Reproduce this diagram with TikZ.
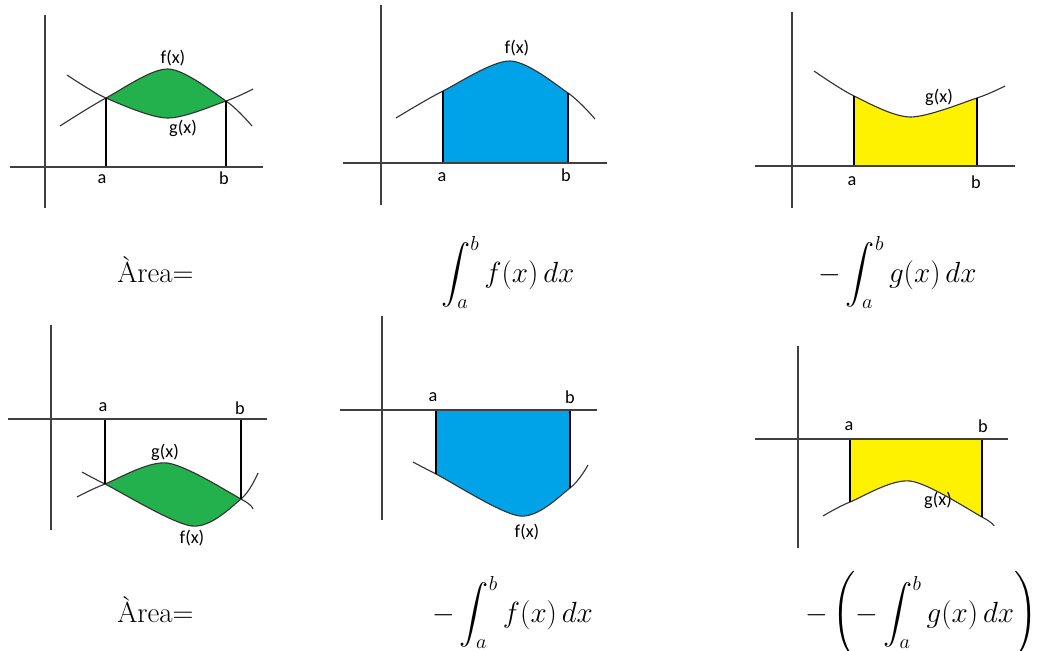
\documentclass[tikz,border=0pt]{standalone}
\usepackage{amsmath}
\usepackage{exscale}
\usepackage{fontspec}
\newfontfamily\lblfont{Carlito}
\definecolor{areagreen}{RGB}{34,177,76}
\definecolor{areablue}{RGB}{0,162,232}
\definecolor{areayellow}{RGB}{255,242,0}

\begin{document}
\begin{tikzpicture}[
  x=0.025cm, y=0.025cm,
  axis/.style={line width=1pt, black!75},
  curve/.style={line width=0.8pt, black!80},
  bound/.style={line width=0.8pt, black},
  lbl/.style={font=\lblfont\fontsize{13}{15}\selectfont, inner sep=0pt},
  formula/.style={font=\fontsize{20.6}{25}\selectfont, inner sep=0pt, anchor=base west},
]
  \useasboundingbox (0,0) rectangle (1043,-650);

  % area between f and g, above the axis
  \begin{scope}
    \clip plot[smooth] coordinates {(60,-126) (106,-98) (168,-69) (226,-101) (252,-126)} -- (252,-200) -- (60,-200) -- cycle;
    \fill[areagreen] plot[smooth] coordinates {(67,-75) (106,-98) (167,-118) (226,-101) (253,-89)} -- (253,0) -- (67,0) -- cycle;
  \end{scope}
  \draw[curve] plot[smooth] coordinates {(60,-126) (106,-98) (168,-69) (226,-101) (252,-126)};
  \draw[curve] plot[smooth] coordinates {(67,-75) (106,-98) (167,-118) (226,-101) (253,-89)};
  \draw[bound] (106,-167) -- (106,-98);
  \draw[bound] (226,-167) -- (226,-101);
  \draw[axis] (45,-15) -- (45,-208);
  \draw[axis] (10,-167) -- (263,-167);
  \node[lbl] (a1) at (102,-179) {a};
  \node[lbl] (b1) at (224,-178) {b};
  \node[lbl] (f1) at (173,-58) {f(x)};
  \node[lbl] (g1) at (183,-128) {g(x)};

  % f above the axis
  \begin{scope}
    \clip (443,-163) rectangle (568,0);
    \fill[areablue] plot[smooth] coordinates {(396,-118) (443,-91) (510,-61) (568,-93) (595,-119)} -- (595,-163) -- (396,-163) -- cycle;
  \end{scope}
  \draw[curve] plot[smooth] coordinates {(396,-118) (443,-91) (510,-61) (568,-93) (595,-119)};
  \draw[bound] (443,-163) -- (443,-91);
  \draw[bound] (568,-163) -- (568,-93);
  \draw[axis] (381,-5) -- (381,-205);
  \draw[axis] (343,-163) -- (607,-163);
  \node[lbl] (a2) at (442,-177) {a};
  \node[lbl] (b2) at (566,-175) {b};
  \node[lbl] (f2) at (517,-48) {f(x)};

  % g above the axis
  \begin{scope}
    \clip (854,-166) rectangle (977,0);
    \fill[areayellow] plot[smooth] coordinates {(814,-71) (854,-96) (910,-117) (977,-98) (1005,-86)} -- (1005,-166) -- (814,-166) -- cycle;
  \end{scope}
  \draw[curve] plot[smooth] coordinates {(814,-71) (854,-96) (910,-117) (977,-98) (1005,-86)};
  \draw[bound] (854,-166) -- (854,-96);
  \draw[bound] (977,-166) -- (977,-98);
  \draw[axis] (792,-12) -- (792,-208);
  \draw[axis] (755,-166) -- (1015,-166);
  \node[lbl] (a3) at (852,-181) {a};
  \node[lbl] (b3) at (976,-182) {b};
  \node[lbl] (g3) at (939,-97) {g(x)};

  % area between g and f, below the axis
  \begin{scope}
    \clip plot[smooth] coordinates {(77,-497) (105,-484) (167,-463) (241,-499) (253,-509)} -- (253,-560) -- (77,-560) -- cycle;
    \fill[areagreen] plot[smooth] coordinates {(82,-472) (105,-484) (192,-526) (241,-499) (258,-473)} -- (258,-400) -- (82,-400) -- cycle;
  \end{scope}
  \draw[curve] plot[smooth] coordinates {(77,-497) (105,-484) (167,-463) (241,-499) (253,-509)};
  \draw[curve] plot[smooth] coordinates {(82,-472) (105,-484) (192,-526) (241,-499) (258,-473)};
  \draw[bound] (105,-419) -- (105,-484);
  \draw[bound] (241,-419) -- (241,-499);
  \draw[axis] (51,-325) -- (51,-530);
  \draw[axis] (8,-419) -- (267,-419);
  \node[lbl] (a4) at (103,-407) {a};
  \node[lbl] (b4) at (240,-408) {b};
  \node[lbl] (g4) at (165,-452) {g(x)};
  \node[lbl] (f4) at (192,-538) {f(x)};

  % f below the axis
  \begin{scope}
    \clip (436,-410) rectangle (570,-560);
    \fill[areablue] plot[smooth] coordinates {(413,-462) (436,-474) (520,-516) (570,-488) (588,-465)} -- (588,-410) -- (413,-410) -- cycle;
  \end{scope}
  \draw[curve] plot[smooth] coordinates {(413,-462) (436,-474) (520,-516) (570,-488) (588,-465)};
  \draw[bound] (436,-410) -- (436,-474);
  \draw[bound] (570,-410) -- (570,-488);
  \draw[axis] (382,-316) -- (382,-520);
  \draw[axis] (340,-410) -- (597,-410);
  \node[lbl] (a5) at (433,-397) {a};
  \node[lbl] (b5) at (570,-397) {b};
  \node[lbl] (f5) at (527,-532) {f(x)};

  % g below the axis
  \begin{scope}
    \clip (850,-439) rectangle (982,-560);
    \fill[areayellow] plot[smooth] coordinates {(823,-516) (850,-502) (910,-481) (982,-517) (994,-526)} -- (994,-439) -- (823,-439) -- cycle;
  \end{scope}
  \draw[curve] plot[smooth] coordinates {(823,-516) (850,-502) (910,-481) (982,-517) (994,-526)};
  \draw[bound] (850,-439) -- (850,-502);
  \draw[bound] (982,-439) -- (982,-517);
  \draw[axis] (798,-346) -- (798,-548);
  \draw[axis] (755,-439) -- (1008,-439);
  \node[lbl] (a6) at (849,-426) {a};
  \node[lbl] (b6) at (983,-426) {b};
  \node[lbl] (g6) at (938,-500) {g(x)};

  % formulas
  \node[formula] (area1) at (117,-282) {Àrea=};
  \node[formula] (int1) at (441,-282) {$\displaystyle\int_a^b f(x)\,dx$};
  \node[formula] (int2) at (818,-282) {$\displaystyle-\int_a^b g(x)\,dx$};
  \node[formula] (area2) at (117,-622) {Àrea=};
  \node[formula] (int3) at (432,-622) {$\displaystyle-\int_a^b f(x)\,dx$};
  \node[formula] (int4) at (805,-622) {$\displaystyle-\left(-\int_a^b g(x)\,dx\right)$};
\end{tikzpicture}
\end{document}
